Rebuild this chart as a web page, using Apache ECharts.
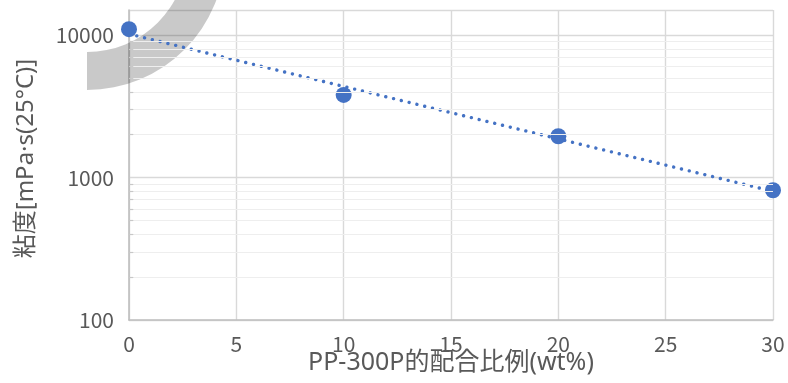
<!DOCTYPE html>
<html>
<head>
<meta charset="utf-8">
<script src="https://cdn.jsdelivr.net/npm/echarts@6/dist/echarts.min.js"></script>
<style>
html,body{margin:0;padding:0;background:#fff;}
#c{width:788px;height:383px;}
</style>
</head>
<body>
<div id="c"></div>
<script>
// ---- data ----
const ratios = [0, 10, 20, 30];               // PP-300P的配合比例 (wt%)
const viscosity = [11000, 3800, 1950, 814];   // 粘度 mPa·s (25℃)
const xMin = 0, xMax = 30, xStep = 5;
const yMin = 100, yMax = 15000;
const yMajorTicks = [100, 1000, 10000];
const yMinorTicks = [200, 300, 400, 500, 600, 700, 800, 900,
                     2000, 3000, 4000, 5000, 6000, 7000, 8000, 9000];
const xName = 'PP-300P的配合比例(wt%)';
const yName = '粘度[mPa·s(25°C)]';

// exponential trendline (least squares on ln y)
const n = ratios.length;
const lnY = viscosity.map(v => Math.log(v));
const mx = ratios.reduce((a, b) => a + b, 0) / n;
const my = lnY.reduce((a, b) => a + b, 0) / n;
let sxy = 0, sxx = 0;
for (let i = 0; i < n; i++) { sxy += (ratios[i] - mx) * (lnY[i] - my); sxx += (ratios[i] - mx) ** 2; }
const slope = sxy / sxx, icpt = my - slope * mx;
const fit = x => Math.exp(icpt + slope * x);
const trend = [xMin, xMax].map(x => [x, fit(x)]);

const font = '"Noto Sans CJK JP", "Noto Sans", sans-serif';
const nameFont = '"Noto Sans", "Noto Sans CJK JP", sans-serif';
const blue = '#4472c4';

const chart = echarts.init(document.getElementById('c'), null, {renderer: 'canvas'});
chart.setOption({
  animation: false,
  backgroundColor: '#ffffff',
  grid: {left: 129, right: 15, top: 10, bottom: 63, containLabel: false},
  graphic: [{
    type: 'sector', silent: true, z: 1,
    shape: {cx: 87, cy: -48, r0: 100, r: 138, startAngle: 0, endAngle: Math.PI / 2},
    style: {fill: 'rgba(0,0,0,0.21)'}
  }],
  xAxis: {
    type: 'value', min: xMin, max: xMax, interval: xStep,
    name: xName, nameLocation: 'middle', nameGap: 30, nameMoveOverlap: false,
    nameTextStyle: {fontFamily: nameFont, fontSize: 25, color: '#595959'},
    axisLine: {show: true, lineStyle: {color: '#bfbfbf', width: 1.6}},
    axisTick: {show: false},
    axisLabel: {fontFamily: font, fontSize: 21, color: '#595959', margin: 14},
    splitLine: {show: true, lineStyle: {color: '#d9d9d9', width: 1.4}}
  },
  yAxis: {
    type: 'log', logBase: 10, min: yMin, max: yMax,
    name: yName, nameLocation: 'middle', nameGap: 91, nameRotate: 90, nameMoveOverlap: false,
    nameTextStyle: {fontFamily: nameFont, fontSize: 24, color: '#595959', padding: [0, 0, 0, 13]},
    axisLine: {show: true, onZero: false, lineStyle: {color: '#bfbfbf', width: 1.6}},
    axisTick: {show: false},
    axisLabel: {
      fontFamily: font, fontSize: 21, color: '#595959', margin: 15,
      formatter: v => {
        const hit = yMajorTicks.find(t => Math.abs(t - v) / t < 1e-6);
        return hit ? String(hit) : '';
      }
    },
    splitLine: {show: true, lineStyle: {color: '#d9d9d9', width: 1.4}}
  },
  series: [
    {
      type: 'line', data: [], silent: true, z: 0,
      markLine: {
        silent: true, symbol: 'none', animation: false,
        label: {show: false},
        lineStyle: {color: '#eeeeee', width: 1.2, type: 'solid'},
        data: yMinorTicks.map(v => [{coord: [xMin, v]}, {coord: [xMax, v]}])
      }
    },
    {
      type: 'line', data: [], silent: true, z: 0,
      markLine: {
        silent: true, symbol: 'none', animation: false,
        label: {show: false},
        lineStyle: {color: '#c8c8c8', width: 1.2, type: 'solid'},
        data: yMinorTicks.map(v => [{coord: [xMin, v]}, {coord: [xMin + 0.2, v]}])
      }
    },
    {
      type: 'line', data: trend, symbol: 'none', silent: true, z: 3,
      lineStyle: {color: blue, width: 3.4, type: [0.01, 8], cap: 'round'}
    },
    {
      type: 'scatter', data: ratios.map((x, i) => [x, viscosity[i]]),
      symbol: 'circle', symbolSize: 16, z: 4,
      itemStyle: {color: blue, opacity: 1}
    }
  ]
});
</script>
</body>
</html>
